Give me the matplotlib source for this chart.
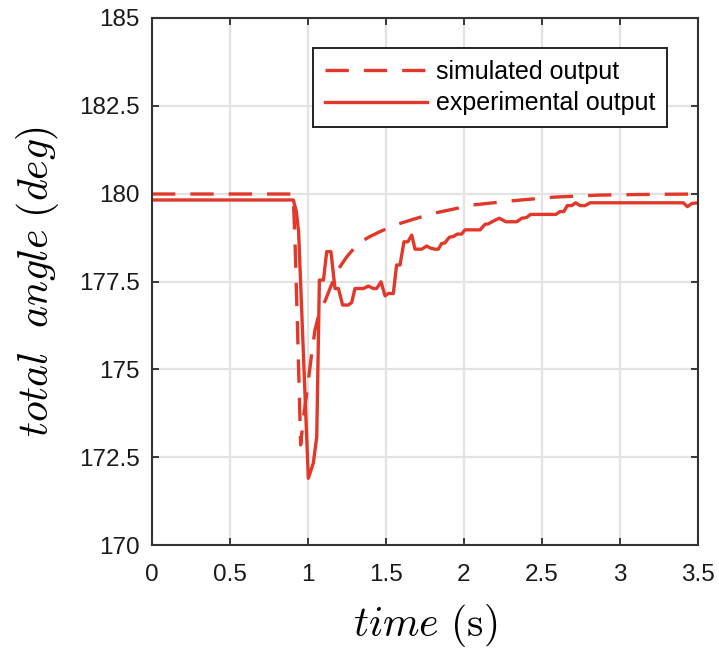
import matplotlib
matplotlib.use('Agg')
import matplotlib.pyplot as plt

# simulated output (dashed)
sim_t = [0.0, 0.905, 0.917, 0.935, 0.953, 0.97, 0.992, 1.024, 1.045, 1.077, 1.11,
         1.141, 1.184, 1.248, 1.323, 1.397, 1.462, 1.558, 1.697, 1.803, 2.06,
         2.316, 2.573, 2.87, 3.2, 3.5]
sim_v = [179.99, 179.99, 178.6, 175.8, 172.85, 173.6, 174.32, 175.46, 176.12, 176.69, 176.95,
         177.3, 177.78, 178.2, 178.59, 178.78, 178.92, 179.11, 179.3, 179.44, 179.68,
         179.8, 179.9, 179.96, 179.98, 179.99]

# experimental output (solid)
exp_t = [0.0, 0.906, 0.925, 0.94, 0.97, 1.002, 1.034, 1.056, 1.073, 1.099, 1.12,
         1.147, 1.173, 1.195, 1.222, 1.258, 1.28, 1.301, 1.355, 1.387, 1.419,
         1.44, 1.468, 1.494, 1.515, 1.547, 1.568, 1.59, 1.615, 1.64, 1.665,
         1.686, 1.729, 1.761, 1.785, 1.814, 1.835, 1.857, 1.878, 1.906, 1.932,
         1.957, 1.985, 2.006, 2.103, 2.135, 2.156, 2.188, 2.226, 2.269, 2.338,
         2.37, 2.4, 2.427, 2.59, 2.615, 2.64, 2.662, 2.69, 2.716, 2.744,
         2.776, 2.808, 3.406, 3.432, 3.46, 3.5]
exp_v = [179.82, 179.82, 179.5, 178.9, 175.5, 171.9, 172.33, 173.08, 177.54, 177.54, 178.35,
         178.35, 177.3, 177.3, 176.83, 176.83, 176.9, 177.3, 177.3, 177.37, 177.3,
         177.3, 177.49, 177.09, 177.16, 177.16, 177.97, 177.97, 178.63, 178.63, 178.82,
         178.42, 178.42, 178.51, 178.45, 178.42, 178.42, 178.58, 178.6, 178.76, 178.78,
         178.85, 178.85, 178.97, 178.97, 179.13, 179.14, 179.22, 179.3, 179.2, 179.2,
         179.3, 179.32, 179.41, 179.41, 179.49, 179.49, 179.66, 179.66, 179.74, 179.66,
         179.66, 179.74, 179.74, 179.63, 179.72, 179.74]

x_ticks = [0, 0.5, 1, 1.5, 2, 2.5, 3, 3.5]
x_ticklabels = ['0', '0.5', '1', '1.5', '2', '2.5', '3', '3.5']
y_ticks = [170, 172.5, 175, 177.5, 180, 182.5, 185]
y_ticklabels = ['170', '172.5', '175', '177.5', '180', '182.5', '185']

plt.rcParams['font.family'] = ['Liberation Sans', 'DejaVu Sans']
plt.rcParams['mathtext.fontset'] = 'cm'

red = '#e2382a'
fig = plt.figure(figsize=(7.19, 6.5), dpi=100)
ax = fig.add_axes([152 / 719, 105 / 650, 546 / 719, 527 / 650])

ax.plot(sim_t, sim_v, color=red, linewidth=2.4, dashes=(7, 4.5), label='simulated output')
ax.plot(exp_t, exp_v, color=red, linewidth=2.4, label='experimental output')

ax.set_xlim(0, 3.5)
ax.set_ylim(170, 185)
ax.set_xticks(x_ticks)
ax.set_xticklabels(x_ticklabels)
ax.set_yticks(y_ticks)
ax.set_yticklabels(y_ticklabels)
ax.grid(True, color='#e3e3e3', linewidth=1.6)
ax.set_axisbelow(True)
ax.tick_params(direction='in', length=5, width=1.2, labelsize=17.5, colors='#1a1a1a',
               top=True, right=True)
ax.tick_params(axis='x', pad=14)
ax.tick_params(axis='y', pad=9)
for s in ax.spines.values():
    s.set_color('#333333')
    s.set_linewidth(1.5)

ax.set_xlabel(r'$time\ (\mathrm{s})$', fontsize=30, labelpad=11)
ax.set_ylabel(r'$total\ \ angle\ (deg)$', fontsize=30, labelpad=13)

leg = ax.legend(loc='upper right', bbox_to_anchor=(0.943, 0.943), fontsize=18,
                fancybox=False, edgecolor='#222222', framealpha=1, borderaxespad=0,
                handlelength=4.1, handletextpad=0.35, borderpad=0.47, labelspacing=0.3)
leg.get_frame().set_linewidth(1.4)

fig.savefig('out.png', dpi=100)
